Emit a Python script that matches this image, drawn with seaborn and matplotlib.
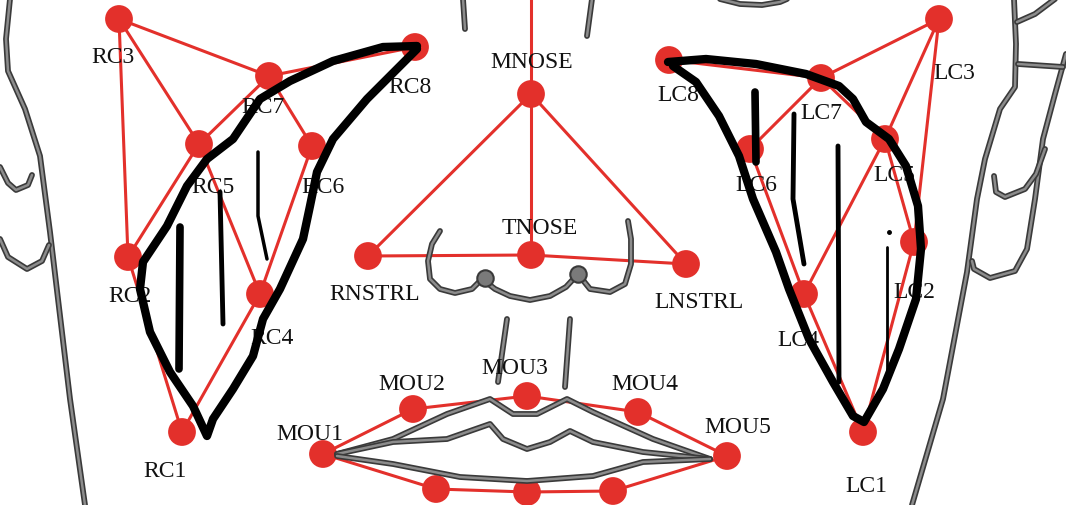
import numpy as np
import pandas as pd
import matplotlib
matplotlib.use('Agg')
import matplotlib.pyplot as plt
import seaborn as sns

# Landmark positions (image pixels, y downwards)
landmark_names = ['RC1', 'RC2', 'RC3', 'RC4', 'RC5', 'RC6', 'RC7', 'RC8',
                  'MNOSE', 'TNOSE', 'RNSTRL', 'LNSTRL',
                  'LC1', 'LC2', 'LC3', 'LC4', 'LC5', 'LC6', 'LC7', 'LC8',
                  'MOU1', 'MOU2', 'MOU3', 'MOU4', 'MOU5', 'MOU6', 'MOU7', 'MOU8']
landmark_x = [182, 128, 119, 260, 199, 312, 269, 415,
              531, 531, 368, 686,
              863, 914, 939, 804, 885, 750, 821, 669,
              323, 413, 527, 638, 727, 436, 527, 613]
landmark_y = [433, 258, 20, 295, 145, 147, 77, 48,
              95, 256, 257, 265,
              433, 243, 20, 295, 140, 150, 79, 61,
              455, 410, 397, 413, 457, 490, 493, 492]

# label centres
label_x = [165, 130, 113, 272, 213, 323, 263, 410,
           532, 540, 375, 699,
           866, 914, 954, 798, 894, 756, 821, 678,
           310, 412, 515, 645, 738]
label_y = [472, 297, 57, 338, 187, 187, 107, 87,
           62, 228, 295, 303,
           487, 292, 73, 340, 175, 185, 113, 95,
           435, 385, 368, 385, 428]

edges = [('RC3', 'RC7'), ('RC3', 'RC5'), ('RC3', 'RC2'), ('RC7', 'RC8'), ('RC7', 'RC5'),
         ('RC7', 'RC6'), ('RC5', 'RC2'), ('RC5', 'RC4'), ('RC6', 'RC4'), ('RC2', 'RC1'),
         ('RC4', 'RC1'),
         ('LC8', 'LC7'), ('LC7', 'LC3'), ('LC3', 'LC5'), ('LC3', 'LC2'), ('LC7', 'LC6'),
         ('LC7', 'LC5'), ('LC6', 'LC4'), ('LC5', 'LC4'), ('LC5', 'LC2'), ('LC4', 'LC1'),
         ('LC2', 'LC1'),
         ('MNOSE', 'RNSTRL'), ('MNOSE', 'LNSTRL'), ('MNOSE', 'TNOSE'),
         ('RNSTRL', 'TNOSE'), ('TNOSE', 'LNSTRL'),
         ('MOU1', 'MOU2'), ('MOU2', 'MOU3'), ('MOU3', 'MOU4'), ('MOU4', 'MOU5'),
         ('MOU5', 'MOU8'), ('MOU8', 'MOU7'), ('MOU7', 'MOU6'), ('MOU6', 'MOU1')]
forehead_line_x = [531, 531]
forehead_line_y = [95, -5]

# sketch lines of the face (grey)
face_left_x = [10, 6, 8, 25, 40, 50, 58, 70, 85]
face_left_y = [0, 40, 72, 110, 157, 233, 300, 400, 506]
ear_left_a_x = [0, 8, 16, 28, 32]
ear_left_a_y = [168, 184, 191, 186, 176]
ear_left_b_x = [0, 8, 27, 42, 49]
ear_left_b_y = [240, 258, 270, 262, 246]
face_right_x = [1014, 1016, 1015, 1000, 985, 977, 967, 943, 912]
face_right_y = [0, 45, 88, 110, 160, 200, 273, 400, 506]
ear_right_x = [1066, 1055, 1043, 1035, 1027, 1015, 990, 974, 972]
ear_right_y = [55, 95, 140, 200, 250, 272, 279, 270, 262]
ear_inner_x = [994, 996, 1005, 1025, 1036, 1045]
ear_inner_y = [177, 193, 198, 190, 175, 150]
ear_top_x = [1017, 1035, 1055]
ear_top_y = [23, 15, 0]
ear_bar_x = [1018, 1063]
ear_bar_y = [65, 68]
nose_x = [440, 432, 428, 430, 440, 455, 472, 482, 495, 510, 530, 550, 566, 578, 590, 610, 625, 631, 631, 628]
nose_y = [232, 245, 262, 280, 290, 294, 290, 280, 290, 297, 301, 297, 288, 275, 290, 293, 285, 265, 240, 222]
nose_blob_x = [485, 578]
nose_blob_y = [279, 275]
philtrum_l_x = [507, 498]
philtrum_l_y = [320, 383]
philtrum_r_x = [570, 565]
philtrum_r_y = [320, 388]
brow_l_x = [463, 465]
brow_l_y = [0, 30]
brow_r_x = [592, 587]
brow_r_y = [0, 37]
eye_x = [720, 740, 762, 780, 787]
eye_y = [0, 5, 6, 3, 0]
lip_top_x = [337, 393, 447, 490, 513, 537, 567, 593, 653, 710]
lip_top_y = [455, 440, 415, 400, 415, 415, 400, 413, 440, 460]
lip_mid_x = [337, 393, 447, 490, 503, 527, 550, 570, 593, 643, 710]
lip_mid_y = [455, 443, 440, 425, 440, 450, 443, 432, 443, 453, 460]
lip_low_x = [337, 393, 460, 527, 593, 643, 710]
lip_low_y = [457, 465, 478, 482, 477, 463, 460]

# hand drawn black regions
right_area_x = [417, 383, 333, 290, 260, 233, 207, 187, 167, 143, 140, 150, 170, 193, 207,
                213, 233, 253, 263, 280, 303, 310, 317, 333, 367, 400, 417]
right_area_y = [47, 48, 62, 82, 100, 140, 160, 187, 227, 263, 290, 333, 373, 407, 437,
                420, 390, 357, 320, 290, 240, 207, 173, 140, 100, 67, 50]
left_area_x = [668, 706, 756, 806, 839, 853, 866, 889, 906, 918, 921, 916, 899, 883, 864,
               853, 833, 809, 789, 776, 753, 739, 719, 696, 673]
left_area_y = [63, 60, 65, 75, 87, 100, 123, 140, 167, 207, 250, 300, 350, 390, 423,
               417, 383, 340, 290, 253, 200, 157, 117, 83, 67]
hatches = [([180, 179], [228, 370], 5.5),
           ([220, 223], [193, 325], 3.5),
           ([258, 258, 267], [153, 217, 260], 2.5),
           ([755, 756], [93, 163], 5.5),
           ([794, 793, 804], [115, 200, 265], 3.5),
           ([838, 839], [147, 383], 3.5),
           ([887, 887], [248, 383], 2.0)]

points = pd.DataFrame({'name': landmark_names, 'x': landmark_x, 'y': landmark_y})
pos = points.set_index('name')

fig = plt.figure(figsize=(10.66, 5.06), dpi=100)
ax = fig.add_axes([0, 0, 1, 1])

red = '#e3302b'
for a, b in edges:
    ax.plot([pos.loc[a, 'x'], pos.loc[b, 'x']], [pos.loc[a, 'y'], pos.loc[b, 'y']],
            color=red, lw=2.2, zorder=2)
ax.plot(forehead_line_x, forehead_line_y, color=red, lw=2.2, zorder=2)

sns.scatterplot(data=points, x='x', y='y', s=400, color=red, edgecolor='none',
                ax=ax, zorder=3, legend=False)
ax.set_xlim(0, 1066)
ax.set_ylim(506, 0)
ax.axis('off')

grey_lines = [(face_left_x, face_left_y), (ear_left_a_x, ear_left_a_y), (ear_left_b_x, ear_left_b_y),
              (face_right_x, face_right_y), (ear_right_x, ear_right_y), (ear_inner_x, ear_inner_y),
              (ear_top_x, ear_top_y), (ear_bar_x, ear_bar_y), (nose_x, nose_y),
              (philtrum_l_x, philtrum_l_y), (philtrum_r_x, philtrum_r_y),
              (brow_l_x, brow_l_y), (brow_r_x, brow_r_y), (eye_x, eye_y),
              (lip_top_x, lip_top_y), (lip_mid_x, lip_mid_y), (lip_low_x, lip_low_y)]
for gx, gy in grey_lines:
    ax.plot(gx, gy, color='#3a3a3a', lw=4.2, solid_capstyle='round', solid_joinstyle='round', zorder=4)
    ax.plot(gx, gy, color='#8c8c8c', lw=1.8, solid_capstyle='round', solid_joinstyle='round', zorder=4)
ax.scatter(nose_blob_x, nose_blob_y, s=140, color='#7a7a7a', edgecolor='#3a3a3a', lw=1.5, zorder=4)

for name, lx, ly in zip(landmark_names, label_x, label_y):
    ax.text(lx, ly, name, ha='center', va='center', fontsize=17,
            family='Liberation Serif', color='#111111', zorder=5)

ax.plot(right_area_x, right_area_y, color='black', lw=6, solid_joinstyle='round',
        solid_capstyle='round', zorder=6)
ax.plot(left_area_x, left_area_y, color='black', lw=6, solid_joinstyle='round',
        solid_capstyle='round', zorder=6)
for hx, hy, w in hatches:
    ax.plot(hx, hy, color='black', lw=w, solid_capstyle='round', zorder=6)
ax.plot([889], [233], 'o', color='black', ms=2.5, zorder=6)

fig.savefig('out.png', dpi=100)
